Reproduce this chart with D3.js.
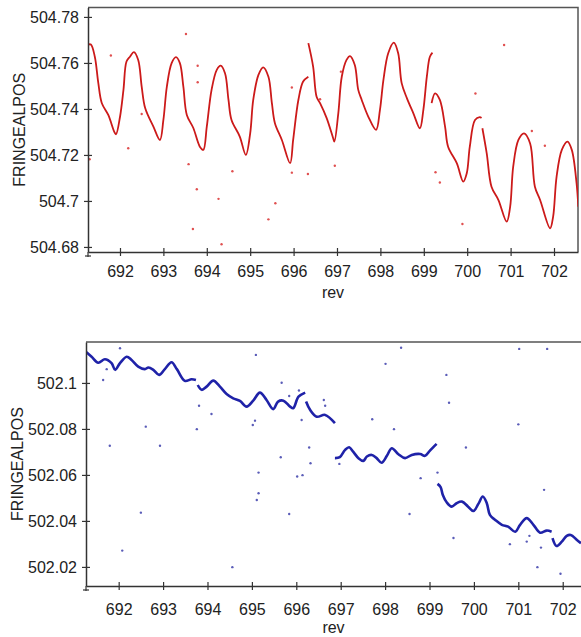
<!DOCTYPE html>
<html>
<head>
<meta charset="utf-8">
<script src="https://cdn.jsdelivr.net/npm/d3@7"></script>
<style>
  body { margin: 0; background: #fff; }
  text { font-family: "Liberation Sans", Arial, Helvetica, sans-serif; fill: #222; }
</style>
</head>
<body>
<div id="chart"></div>
<script>
// ---- data ----
var revTicks = [692, 693, 694, 695, 696, 697, 698, 699, 700, 701, 702];
var topPosTicks = [504.68, 504.7, 504.72, 504.74, 504.76, 504.78];
var botPosTicks = [502.02, 502.04, 502.06, 502.08, 502.1];

// red series (top), split where the trace jumps
var topRev = [691.27,691.33,691.42,691.50,691.58,691.73,691.88,691.91,692.00,692.08,692.15,692.23,692.32,692.42,692.50,692.58,692.77,692.92,693.00,693.08,
  693.19,693.29,693.38,693.46,693.54,693.69,693.84,693.92,694.00,694.11,694.23,694.32,694.42,694.50,694.57,694.76,694.90,695.00,695.07,695.19,
  695.30,695.42,695.50,695.57,695.73,695.92,695.99,696.11,696.22,696.34,
  696.34,696.45,696.53,696.61,696.76,696.91,696.94,697.03,697.11,697.22,697.30,697.41,697.49,697.57,697.72,697.90,697.99,698.07,698.18,698.31,
  698.41,698.49,698.61,698.76,698.91,698.99,699.07,699.14,699.20,
  699.18,699.26,699.37,699.49,699.56,699.76,699.91,699.99,700.06,700.18,700.29,700.33,
  700.35,700.45,700.56,700.72,700.91,700.99,701.06,701.18,701.31,701.45,701.56,701.68,701.91,701.98,702.06,702.18,702.31,702.41,702.52,702.56];
var topPos = [504.768,504.768,504.7627,504.7513,504.7426,504.7374,504.7296,504.729,504.7365,504.7483,504.7606,504.7627,504.7647,504.7613,504.7497,504.7404,504.7323,504.7265,504.7352,504.7497,
  504.7599,504.7625,504.7599,504.7497,504.7374,504.7317,504.7236,504.7222,504.7323,504.7483,504.7570,504.7588,504.7555,504.7439,504.7352,504.7280,504.7200,504.7294,504.7439,504.7548,
  504.7581,504.7540,504.7425,504.7338,504.7265,504.7164,504.7265,504.7439,504.7519,504.7540,
  504.7686,504.7584,504.7453,504.7425,504.7361,504.7274,504.7258,504.7381,504.7540,504.7613,504.7630,504.7591,504.7483,504.7439,504.7367,504.7309,504.7396,504.7526,504.7642,504.7688,
  504.7642,504.7512,504.7447,504.7381,504.7316,504.7396,504.7540,504.7627,504.7645,
  504.7425,504.7468,504.7439,504.7323,504.7236,504.7164,504.7084,504.7120,504.7236,504.7352,504.7364,504.7361,
  504.7316,504.7207,504.7062,504.7004,504.6910,504.6975,504.7149,504.7265,504.7294,504.7250,504.7062,504.7004,504.6881,504.6932,504.7106,504.7222,504.7258,504.7222,504.7077,504.6975];
var topBreaks = [50, 79, 91];

var topOutRev = [691.30,691.79,692.19,692.50,693.52,693.58,693.68,693.77,693.79,693.79,694.27,694.34,694.59,695.42,695.58,695.96,695.96,696.33,696.61,696.95,697.09,699.27,699.37,699.89,700.19,700.85,701.49,701.79];
var topOutPos = [504.7181,504.7632,504.7229,504.7378,504.7726,504.7160,504.6878,504.7051,504.7588,504.7516,504.7009,504.6812,504.7129,504.6920,504.6990,504.7493,504.7123,504.7117,504.7442,504.7153,504.7562,504.7125,504.7080,504.6900,504.7467,504.7678,504.7304,504.7240];

// blue series (bottom)
var botRev = [691.26,691.39,691.54,691.69,691.84,691.92,692.03,692.18,692.29,692.44,692.59,692.67,692.78,692.91,693.04,693.19,693.31,693.49,693.64,693.74,
  693.78,693.87,693.98,694.13,694.28,694.43,694.58,694.73,694.88,695.03,695.18,695.33,695.48,695.59,695.71,695.86,695.93,696.05,696.20,
  696.22,696.31,696.46,696.65,696.87,
  696.87,696.98,697.10,697.19,697.28,697.40,697.51,697.59,697.70,697.81,697.92,698.04,698.15,698.30,698.45,698.60,698.79,698.90,699.01,699.16,
  699.18,699.25,699.30,699.39,699.50,699.61,699.73,699.87,699.99,700.10,700.20,700.29,700.36,700.48,700.63,700.77,700.93,701.04,701.19,701.34,701.49,701.64,701.75,
  701.77,701.86,701.98,702.09,702.18,702.32,702.41];
var botPos = [502.1136,502.1114,502.1088,502.1103,502.1086,502.1057,502.1086,502.1114,502.1100,502.1071,502.1060,502.1067,502.1057,502.1035,502.1060,502.1090,502.1060,502.1009,502.1016,502.1013,
  502.0991,502.0970,502.0984,502.1010,502.0984,502.0952,502.0933,502.0922,502.0897,502.0923,502.0958,502.0926,502.0886,502.0919,502.0923,502.0897,502.0890,502.0940,502.0958,
  502.0919,502.0883,502.0853,502.0861,502.0825,
  502.0673,502.0677,502.0709,502.0720,502.0701,502.0673,502.0661,502.0680,502.0687,502.0673,502.0653,502.0683,502.0716,502.0690,502.0673,502.0687,502.0691,502.0683,502.0706,502.0735,
  502.0561,502.0547,502.0513,502.0480,502.0462,502.0477,502.0484,502.0462,502.0443,502.0474,502.0506,502.0477,502.0426,502.0404,502.0383,502.0375,502.0353,502.0383,502.0412,502.0383,502.0349,502.0358,502.0353,
  502.0325,502.0291,502.0310,502.0335,502.0339,502.0317,502.0303];
var botBreaks = [20, 39, 44, 64, 87];

var botOutRev = [691.65,691.73,691.80,692.03,692.08,692.50,692.61,692.93,693.76,693.81,694.09,694.56,695.02,695.07,695.09,695.11,695.15,695.15,695.65,695.67,695.84,695.84,696.02,696.06,696.12,696.14,
  696.29,696.32,696.62,696.65,696.97,697.71,698.01,698.20,698.36,698.55,698.80,699.18,699.38,699.44,699.54,699.82,700.81,701.00,701.02,701.19,701.25,701.43,701.51,701.58,701.65,701.95];
var botOutPos = [502.1013,502.1060,502.0727,502.1151,502.0271,502.0436,502.0810,502.0727,502.0799,502.0901,502.0865,502.0199,502.0817,502.0836,502.1122,502.0491,502.0610,502.0520,502.0677,502.1001,502.0430,502.0943,502.0593,502.0967,502.0839,502.0599,
  502.0719,502.0651,502.0926,502.0901,502.0648,502.0842,502.1083,502.0799,502.1153,502.0430,502.0586,502.0610,502.1035,502.0914,502.0326,502.0719,502.0299,502.0820,502.1148,502.0310,502.0335,502.0199,502.0284,502.0535,502.1148,502.0170];

var svg = d3.select("#chart").append("svg")
  .attr("width", 581)
  .attr("height", 637)

function segments(rev, pos, breaks) {
  var starts = [0].concat(breaks), out = [];
  starts.forEach(function (s, i) {
    var e = (i + 1 < starts.length) ? starts[i + 1] : rev.length;
    out.push(d3.range(s, e).map(function (k) { return [rev[k], pos[k]]; }));
  });
  return out;
}

function drawPanel(p) {
  var x = d3.scaleLinear().domain(p.xDomain).range([p.left, p.right]);
  var y = d3.scaleLinear().domain(p.yDomain).range([p.bottom, p.top]);
  var g = svg.append("g");

  g.append("clipPath").attr("id", p.id)
    .append("rect")
    .attr("x", p.left).attr("y", p.top)
    .attr("width", p.right - p.left).attr("height", p.bottom - p.top);

  // frame: top and right
  g.append("path")
    .attr("d", "M" + p.left + "," + p.top + "H" + p.right + (p.rightBorder ? "V" + p.bottom : ""))
    .style("fill", "none").style("stroke", "#555").style("stroke-width", 1.5);

  var plot = g.append("g").attr("clip-path", "url(#" + p.id + ")");

  var line = d3.line()
    .x(function (d) { return x(d[0]); })
    .y(function (d) { return y(d[1]); })
    .curve(d3.curveCatmullRom.alpha(0.5));

  plot.selectAll(".seg")
    .data(segments(p.rev, p.pos, p.breaks)).enter()
    .append("path")
    .attr("d", line)
    .style("fill", "none")
    .style("stroke", p.color)
    .style("stroke-width", p.lineWidth)
    .style("stroke-linejoin", "round")
    .style("stroke-dasharray", p.dash)

  plot.selectAll(".out")
    .data(d3.range(p.outRev.length)).enter()
    .append("circle")
    .attr("cx", function (k) { return x(p.outRev[k]); })
    .attr("cy", function (k) { return y(p.outPos[k]); })
    .attr("r", 1.2)
    .style("fill", p.dotColor)

  // axes with ticks crossing the line
  var xAxis = g.append("g")
    .attr("transform", "translate(0," + p.bottom + ")")
    .call(d3.axisBottom(x).tickValues(revTicks).tickSize(4).tickSizeOuter(0).tickPadding(p.xPad));
  xAxis.selectAll(".tick line").attr("y1", -4);

  var yAxis = g.append("g")
    .attr("transform", "translate(" + p.left + ",0)")
    .call(d3.axisLeft(y).tickValues(p.yTicks).tickSize(4).tickSizeOuter(0).tickPadding(5)
      .tickFormat(function (d) { return String(+d.toFixed(3)); }));
  yAxis.selectAll(".tick line").attr("x1", 4);

  [xAxis, yAxis].forEach(function (a) {
    a.select(".domain").style("stroke", "#333").style("stroke-width", 1.5);
    a.selectAll(".tick line").style("stroke", "#333").style("stroke-width", 1.2);
    a.selectAll("text").style("font-size", "16px").style("fill", "#222");
  });

  // little overhang below the corner
  g.append("line")
    .attr("x1", p.left - 3).attr("x2", p.left + 3)
    .attr("y1", p.bottom + 4).attr("y2", p.bottom + 4)
    .style("stroke", "#333").style("stroke-width", 1.2);
  g.append("line")
    .attr("x1", p.left).attr("x2", p.left)
    .attr("y1", p.bottom).attr("y2", p.bottom + 5)
    .style("stroke", "#333").style("stroke-width", 1.2);

  g.append("text")
    .text("rev")
    .attr("x", (p.left + Math.min(p.right, 581)) / 2)
    .attr("y", p.revY)
    .style("font-size", "16px")
    .style("text-anchor", "middle");

  g.append("text")
    .text("FRINGEALPOS")
    .attr("transform", "translate(" + p.labelX + "," + ((p.top + p.bottom) / 2) + ") rotate(-90)")
    .style("font-size", "16px")
    .style("text-anchor", "middle");
}

drawPanel({
  id: "clipTop", left: 88, right: 578, top: 7.5, bottom: 252,
  xDomain: [691.263, 702.553], yDomain: [504.6778, 504.7841],
  rev: topRev, pos: topPos, breaks: topBreaks,
  outRev: topOutRev, outPos: topOutPos,
  color: "#cc1a1a", dotColor: "#e05050", lineWidth: 1.8, dash: null,
  yTicks: topPosTicks, xPad: 10, revY: 298, labelX: 25, rightBorder: true
});

drawPanel({
  id: "clipBot", left: 86, right: 595, top: 342, bottom: 586,
  xDomain: [691.264, 702.727], yDomain: [502.0117, 502.1178],
  rev: botRev, pos: botPos, breaks: botBreaks,
  outRev: botOutRev, outPos: botOutPos,
  color: "#1f22a8", dotColor: "#5a5cb8", lineWidth: 2.6, dash: null,
  yTicks: botPosTicks, xPad: 14, revY: 633, labelX: 23, rightBorder: false
});
</script>
</body>
</html>
